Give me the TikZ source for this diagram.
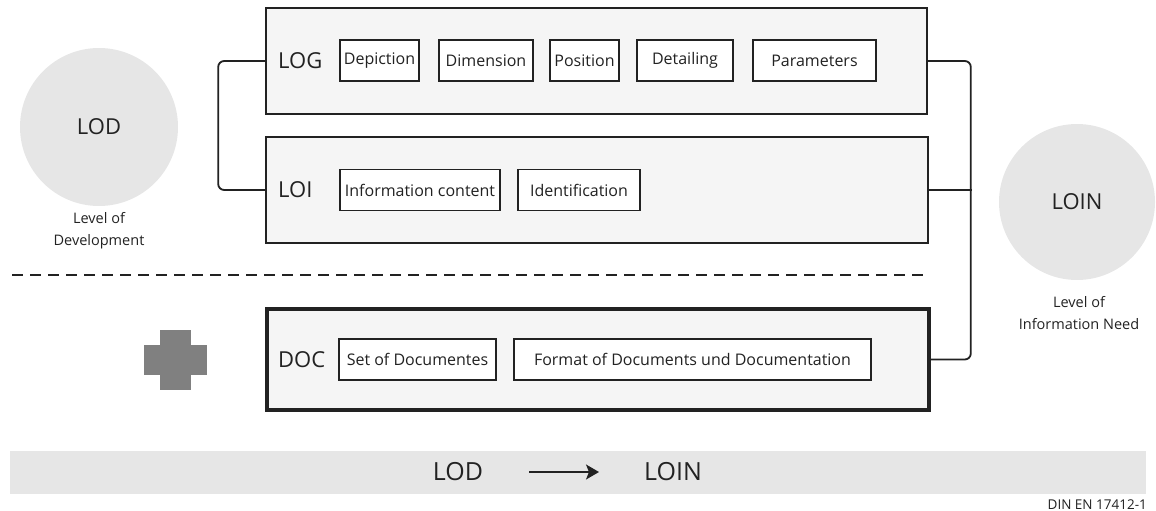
\documentclass[tikz,border=0pt]{standalone}
\usepackage{fontspec}
\setmainfont{Open Sans}
\usetikzlibrary{arrows.meta}
\definecolor{panel}{HTML}{F5F5F5}
\definecolor{disc}{HTML}{E6E6E6}
\definecolor{ink}{HTML}{222222}
\definecolor{plusgray}{HTML}{808080}
\tikzset{
  panelbox/.style={draw=ink, fill=panel, line width=1.6pt, inner sep=0pt},
  itembox/.style={draw=ink, fill=white, line width=1.8pt, inner sep=0pt,
    minimum height=41pt, font=\fontsize{16pt}{19pt}\selectfont, text=ink},
  biglabel/.style={anchor=west, inner sep=0pt, font=\fontsize{22pt}{26pt}\selectfont, text=ink},
  disk/.style={circle, fill=disc, inner sep=0pt, font=\fontsize{22pt}{26pt}\selectfont, text=ink},
  caption/.style={align=center, inner sep=0pt, font=\fontsize{14.5pt}{22pt}\selectfont, text=ink},
  bracket/.style={draw=ink, line width=1.8pt, rounded corners=6pt},
}
\begin{document}
\begin{tikzpicture}[x=1pt,y=-1pt]
\useasboundingbox (0,0) rectangle (1156,511);

% level circles
\node[disk, minimum size=158pt] (lod) at (99,127) {LOD};
\node[caption] (lodtxt) at (99,231) {Level of\\Development};
\node[disk, minimum size=156pt] (loin) at (1077,202) {LOIN};
\node[caption] (lointxt) at (1079,313) {Level of\\Information Need};

% geometry panel
\node[panelbox, minimum width=661pt, minimum height=106pt] (log) at (596.5,61) {};
\node[biglabel] (logl) at (278,61) {LOG};
\node[itembox, minimum width=79pt]  (dep) at (379.5,60.5) {Depiction};
\node[itembox, minimum width=94pt]  (dim) at (486,60.5) {Dimension};
\node[itembox, minimum width=69pt]  (pos) at (584.5,60.5) {Position};
\node[itembox, minimum width=96pt]  (det) at (685,60.5) {Detailing};
\node[itembox, minimum width=123pt] (par) at (814.5,60.5) {Parameters};

% information panel
\node[panelbox, minimum width=662pt, minimum height=106pt] (loi) at (597,190) {};
\node[biglabel] (loil) at (278,190) {LOI};
\node[itembox, minimum width=160pt] (inf) at (420,190) {Information content};
\node[itembox, minimum width=122pt] (ide) at (579,190) {Identification};

% separator
\draw[ink, line width=1.5pt, dash pattern=on 11pt off 7pt] (12,275) coordinate (sepa) -- (928,275) coordinate (sepb);

% plus sign
\fill[plusgray] (160,330) rectangle (191,390);
\fill[plusgray] (144,345) rectangle (207,375);

% documentation panel
\node[panelbox, line width=3.5pt, minimum width=662pt, minimum height=101pt] (doc) at (598,359.5) {};
\node[biglabel] (docl) at (278,359.5) {DOC};
\node[itembox, minimum width=157pt] (set) at (417.5,359.5) {Set of Documentes};
\node[itembox, minimum width=357pt] (fmt) at (692.5,359.5) {Format of Documents und Documentation};

% brackets
\draw[bracket] (log.west) -- ++(-47,0) |- (loi.west);
\draw[bracket] (log.east) -- ++(43,0) |- (doc.east);
\draw[bracket, rounded corners=0pt] (loi.east) -- ++(43,0);

% bottom bar
\fill[disc] (10,451) rectangle (1146,494);
\node[inner sep=0pt, font=\fontsize{25pt}{30pt}\selectfont, text=ink] (blod) at (458,472) {LOD};
\node[inner sep=0pt, font=\fontsize{25pt}{30pt}\selectfont, text=ink] (bloin) at (673,472) {LOIN};
\coordinate (arra) at (529,472);
\coordinate (arrb) at (599,472);
\draw[ink, line width=1.5pt, -{Stealth[length=13pt,width=15pt,inset=3pt]}] (arra) -- (arrb);

\node[anchor=east, inner sep=0pt, font=\fontsize{13.5pt}{16pt}\selectfont, text=ink] (din) at (1147,505) {DIN EN 17412-1};
\end{tikzpicture}
\end{document}
